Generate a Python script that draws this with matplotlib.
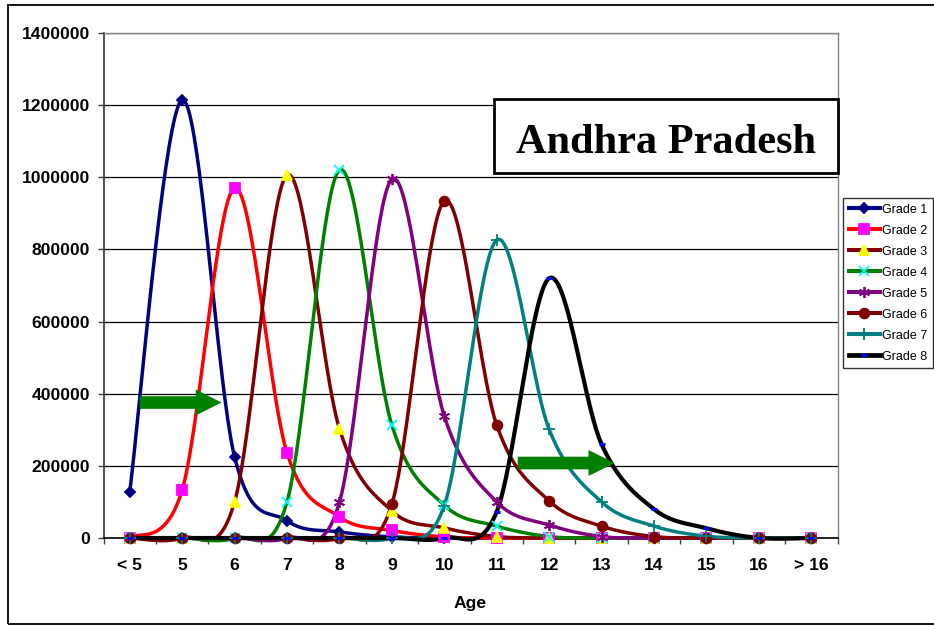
import numpy as np
import matplotlib
matplotlib.use("Agg")
import matplotlib.pyplot as plt
from matplotlib.lines import Line2D
from matplotlib.patches import Rectangle, FancyArrow

plt.rcParams['font.family'] = ['Liberation Sans', 'DejaVu Sans']

ages = ['< 5', '5', '6', '7', '8', '9', '10', '11', '12', '13', '14', '15', '16', '> 16']

grade1 = [128000, 1214000, 225000, 48000, 17000, 3000, 0, 0, 0, 0, 0, 0, 0, 0]
grade2 = [0, 133000, 970000, 236000, 59000, 21000, 3000, 0, 0, 0, 0, 0, 0, 0]
grade3 = [0, 0, 100000, 1006000, 303000, 75000, 28000, 4000, 0, 0, 0, 0, 0, 0]
grade4 = [0, 0, 0, 100000, 1020000, 313000, 91000, 33000, 4000, 0, 0, 0, 0, 0]
grade5 = [0, 0, 0, 0, 99000, 995000, 338000, 100000, 36000, 4000, 0, 0, 0, 0]
grade6 = [0, 0, 0, 0, 0, 94000, 934000, 313000, 103000, 33000, 4000, 0, 0, 0]
grade7 = [0, 0, 0, 0, 0, 0, 90000, 826000, 301000, 100000, 33000, 5000, 0, 0]
grade8 = [0, 0, 0, 0, 0, 0, 0, 73000, 720000, 260000, 80000, 27000, 0, 0]

series_names = ['Grade 1', 'Grade 2', 'Grade 3', 'Grade 4',
                'Grade 5', 'Grade 6', 'Grade 7', 'Grade 8']
series_values = [grade1, grade2, grade3, grade4, grade5, grade6, grade7, grade8]

# line colour, marker, marker colour, marker size, line width
styles = [
    ('#000080', 'D', '#000080', 5.5, 2.5),
    ('#FF0000', 's', '#FF00FF', 6.5, 2.5),
    ('#800000', '^', '#FFFF00', 7.0, 2.5),
    ('#008000', 'x', '#00FFFF', 6.5, 2.5),
    ('#800080', (6, 2, 0), '#800080', 8.0, 2.5),
    ('#800000', 'o', '#800000', 7.0, 2.5),
    ('#008080', '+', '#008080', 8.0, 2.5),
    ('#000000', '_', '#0000FF', 5.0, 3.0),
]


def smooth_curve(xv, yv, n=40):
    """Cubic Bezier smoothing through every point (Catmull-Rom style)."""
    pts = np.column_stack([xv, yv]).astype(float)
    m = len(pts)
    t = np.linspace(0, 1, n)[:, None]
    out = []
    for i in range(m - 1):
        p0 = pts[max(i - 1, 0)]
        p1 = pts[i]
        p2 = pts[i + 1]
        p3 = pts[min(i + 2, m - 1)]
        c1 = p1 + (p2 - p0) / 6.0
        c2 = p2 - (p3 - p1) / 6.0
        seg = ((1 - t) ** 3) * p1 + 3 * ((1 - t) ** 2) * t * c1 \
            + 3 * (1 - t) * t ** 2 * c2 + t ** 3 * p2
        out.append(seg if i == 0 else seg[1:])
    seg = np.vstack(out)
    return seg[:, 0], seg[:, 1]


W, H = 934, 626
fig = plt.figure(figsize=(W / 100, H / 100), dpi=100)

# outer chart frame
fig.patches.append(Rectangle((8 / W, 2 / H), 1.2, 1 - 7 / H, transform=fig.transFigure,
                             fill=False, edgecolor='black', linewidth=1.3, zorder=0))

ax = fig.add_axes([103.5 / W, 1 - 538 / H, 734 / W, 505 / H])
x = np.arange(len(ages))

for vals, (lc, mk, mc, ms, lw) in zip(series_values, styles):
    sx, sy = smooth_curve(x, vals)
    ax.plot(sx, sy, color=lc, linewidth=lw, zorder=3, clip_on=False,
            solid_capstyle='round')

for vals, (lc, mk, mc, ms, lw) in zip(series_values, styles):
    mew = 2.2 if mk == '_' else 1.3
    ax.plot(x, vals, linestyle='none', marker=mk, markersize=ms,
            markerfacecolor=mc, markeredgecolor=mc, markeredgewidth=mew,
            zorder=4, clip_on=False)

ax.set_xlim(-0.5, len(ages) - 0.5)
ax.set_ylim(0, 1400000)
ax.set_yticks(np.arange(0, 1400001, 200000))
ax.set_yticklabels([str(v) for v in range(0, 1400001, 200000)],
                   fontsize=12.6, fontweight='bold')
ax.set_xticks(x)
ax.set_xticklabels(ages, fontsize=12.6, fontweight='bold')
ax.set_xticks(np.arange(-0.5, len(ages)), minor=True)
ax.tick_params(axis='x', which='major', length=0, pad=14.5)
ax.tick_params(axis='x', which='minor', length=4, width=1, direction='out', color='#404040')
ax.tick_params(axis='y', which='major', length=4.5, width=1, direction='out', pad=5,
               color='#404040')
ax.yaxis.grid(True, color='black', linewidth=0.9)
ax.set_axisbelow(True)
for side in ('top', 'right'):
    ax.spines[side].set_color('#808080')
    ax.spines[side].set_linewidth(1.0)
ax.spines['left'].set_color('#404040')
ax.spines['left'].set_linewidth(1.3)
ax.spines['bottom'].set_color('black')
ax.spines['bottom'].set_linewidth(1.2)

fig.text(470.5 / W, 1 - 608 / H, 'Age', fontsize=12.6, fontweight='bold',
         ha='center', va='baseline')

# green arrows
ax.add_patch(FancyArrow(0.19, 375600, 1.56, 0, width=35000, head_width=72000,
                        head_length=0.49, length_includes_head=True,
                        color='#008000', zorder=5, linewidth=0))
ax.add_patch(FancyArrow(7.40, 207900, 1.85, 0, width=35000, head_width=72000,
                        head_length=0.50, length_includes_head=True,
                        color='#008000', zorder=5, linewidth=0))

# state name box
fig.patches.append(Rectangle((494 / W, 1 - 173 / H), 344 / W, 74 / H,
                             transform=fig.transFigure, facecolor='white',
                             edgecolor='black', linewidth=2.0, zorder=5))
fig.text(666 / W, 1 - 153 / H, 'Andhra Pradesh', fontsize=30.5, fontweight='bold',
         family=['Liberation Serif', 'DejaVu Serif'], ha='center', va='baseline',
         zorder=6)

# legend
handles = []
for name, (lc, mk, mc, ms, lw) in zip(series_names, styles):
    mew = 2.2 if mk == '_' else 1.3
    handles.append(Line2D([], [], color=lc, linewidth=lw + 0.4, marker=mk, markersize=ms,
                          markerfacecolor=mc, markeredgecolor=mc, markeredgewidth=mew))
leg = fig.legend(handles, series_names, loc='upper left',
                 bbox_to_anchor=(843 / W, 1 - 198 / H), bbox_transform=fig.transFigure,
                 fontsize=9, frameon=True, fancybox=False, borderpad=0.45,
                 labelspacing=0.72, handlelength=2.5, handletextpad=0.15,
                 borderaxespad=0, markerscale=1.0, numpoints=1)
leg.get_frame().set_edgecolor('black')
leg.get_frame().set_linewidth(1.0)

fig.savefig('out.png', dpi=100)
